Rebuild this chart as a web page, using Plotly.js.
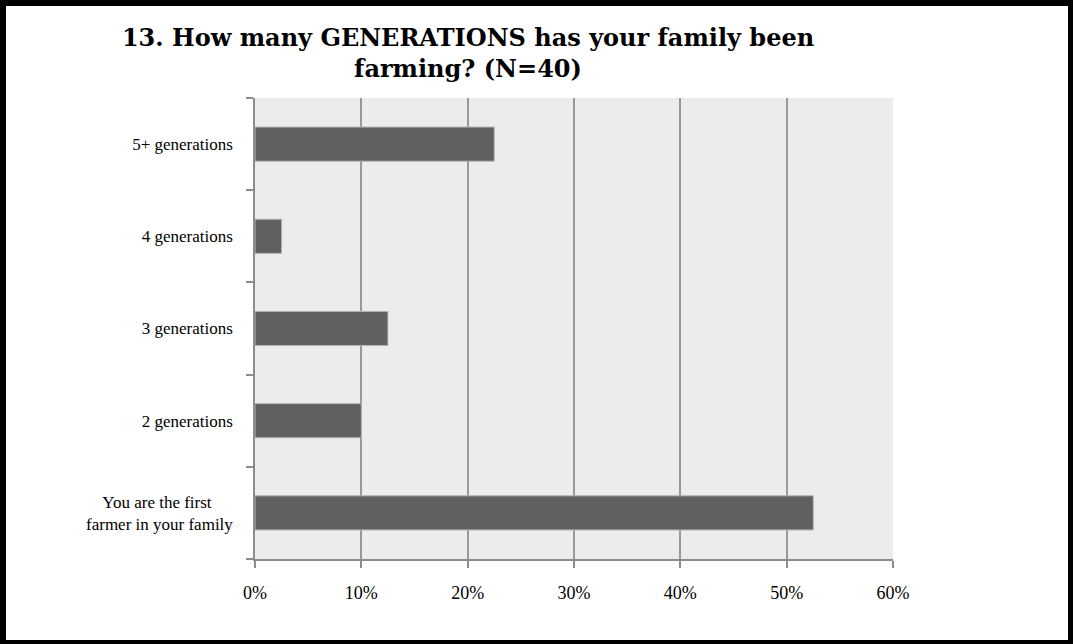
<!DOCTYPE html>
<html>
<head>
<meta charset="utf-8">
<script src="https://cdn.plot.ly/plotly-3.0.1.min.js"></script>
<style>
  html, body { margin: 0; padding: 0; background: #fff; }
  #wrap { position: relative; width: 1073px; height: 644px; }
  #chart { width: 1073px; height: 644px; }
  #frame { position: absolute; left: 0; top: 0; width: 1073px; height: 644px; box-sizing: border-box;
           border-style: solid; border-color: #000; border-width: 6px 5px 4px 6px; pointer-events: none; }
</style>
</head>
<body>
<div id="wrap"><div id="chart"></div><div id="frame"></div></div>
<script>
const categories = [
  "You are the first\u00a0\u00a0\u00a0\u00a0\u00a0<br>farmer in your family",
  "2 generations",
  "3 generations",
  "4 generations",
  "5+ generations"
];
const values = [0.525, 0.10, 0.125, 0.025, 0.225];
const xTicks = [0, 0.1, 0.2, 0.3, 0.4, 0.5, 0.6];
const xTickLabels = ["0%", "10%", "20%", "30%", "40%", "50%", "60%"];
const titleText = "13. How many GENERATIONS has your family been<br>farming? (N=40)";

const serif = "Georgia, 'Liberation Serif', 'DejaVu Serif', serif";
const titleSerif = "Georgia, 'DejaVu Serif', serif";

const trace = {
  type: "bar",
  orientation: "h",
  y: categories,
  x: values,
  marker: { color: "#606060", line: { color: "#b4b4b4", width: 1 } },
  width: 0.37,
  hoverinfo: "x+y"
};

const layout = {
  width: 1073,
  height: 644,
  paper_bgcolor: "#ffffff",
  plot_bgcolor: "#ececec",
  margin: { l: 255, r: 180, t: 98, b: 85, pad: 0 },
  showlegend: false,
  title: {
    text: titleText,
    font: { family: titleSerif, size: 24, color: "#000", weight: "bold" },
    x: 468 / 1073,
    xanchor: "center",
    y: 1 - 46 / 644,
    yanchor: "middle"
  },
  xaxis: {
    range: [0, 0.6],
    tickvals: xTicks,
    ticktext: xTickLabels,
    showgrid: true,
    gridcolor: "#999999",
    gridwidth: 1.5,
    zeroline: false,
    showline: true,
    linecolor: "#8c8c8c",
    linewidth: 1.5,
    ticks: "outside",
    ticklen: 7,
    tickcolor: "#8c8c8c",
    tickwidth: 1.5,
    tickfont: { family: serif, size: 18, color: "#000" },
    ticklabelstandoff: 10,
    fixedrange: true
  },
  yaxis: {
    type: "category",
    showgrid: false,
    zeroline: false,
    showline: true,
    linecolor: "#8c8c8c",
    linewidth: 1.5,
    ticks: "outside",
    tickson: "boundaries",
    ticklen: 7,
    tickcolor: "#8c8c8c",
    tickwidth: 1.5,
    tickfont: { family: serif, size: 17, color: "#000" },
    ticklabelstandoff: 17,
    fixedrange: true
  }
};

Plotly.newPlot("chart", [trace], layout, { displayModeBar: false, responsive: false });
</script>
</body>
</html>
